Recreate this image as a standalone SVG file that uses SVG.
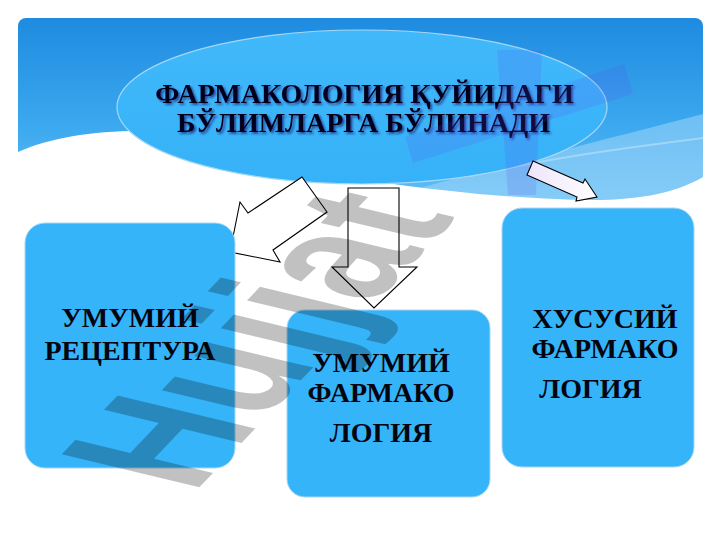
<svg xmlns="http://www.w3.org/2000/svg" width="720" height="540" viewBox="0 0 720 540">
<defs>
<linearGradient id="bannerG" x1="0" y1="0" x2="0" y2="1">
<stop offset="0" stop-color="#1f8be0"/>
<stop offset="0.55" stop-color="#3ba8ef"/>
<stop offset="1" stop-color="#69c2f6"/>
</linearGradient>
<linearGradient id="ellG" x1="0" y1="0" x2="0" y2="1">
<stop offset="0" stop-color="#41b8fa"/>
<stop offset="1" stop-color="#36b2f8"/>
</linearGradient>
<linearGradient id="arrG" x1="0" y1="0" x2="1" y2="0">
<stop offset="0" stop-color="#ede4fb"/>
<stop offset="1" stop-color="#ffffff"/>
</linearGradient>
<filter id="shadow" x="-10%" y="-30%" width="120%" height="160%">
<feDropShadow dx="1.8" dy="1.8" stdDeviation="0.8" flood-color="#1b1f70" flood-opacity="0.75"/>
</filter>
<style>
.box{fill:#36b4f9;stroke:#a9d6f2;stroke-width:1}
.lbl{font-family:"Liberation Serif","Times New Roman",serif;font-weight:bold;font-size:28px;fill:#050510;text-anchor:middle}
.ttl{font-family:"Liberation Serif","Times New Roman",serif;font-weight:bold;font-size:28px;text-anchor:middle;fill:#05051a}
.arr{fill:#ffffff;stroke:#000;stroke-width:1.1;stroke-linejoin:miter}
</style>
</defs>
<rect width="720" height="540" fill="#ffffff"/>
<g id="background">
<rect x="18" y="18" width="685" height="195" rx="8" fill="url(#bannerG)"/>
<path d="M420,188 C520,160 620,136 703,114 L703,177 C680,190 650,199 600,200 C540,200 470,195 420,188 Z" fill="#a8dafa" opacity="0.5"/>
<path d="M470,176 C560,156 640,146 703,138" fill="none" stroke="#c8eafc" stroke-width="2" opacity="0.5"/>
<path d="M10,152 L18,152 C50,138 90,131 140,131 C230,132 300,170 380,182 C460,194 540,200 600,200 C650,199 680,190 703,177 L712,177 L712,216 L10,216 Z" fill="#ffffff"/>
</g>
<g id="title">
<ellipse cx="362" cy="107" rx="245" ry="77" fill="url(#ellG)" stroke="#a6d8f5" stroke-width="1.2"/>
<g class="ttl" filter="url(#shadow)">
<text x="364.5" y="103">ФАРМАКОЛОГИЯ ҚУЙИДАГИ</text>
<text x="363.5" y="132">БЎЛИМЛАРГА БЎЛИНАДИ</text>
</g>
</g>
<g id="mark-blue" fill="#5a4ff0" opacity="0.17">
<polygon points="497,50 542,50 536,195 508,195"/>
<polygon points="405,137 624,64 633,94 413,163"/>
</g>
<g id="connectors">
<polygon class="arr" points="230,252 240,202 248,213 302,177 327,212 273,250 280,262"/>
<polygon class="arr" points="348,188 399,188 399,267 417,267 374,308 332,267 348,267"/>
<polygon class="arr" style="fill:url(#arrG)" points="533,161 583,183 585,179 597,197 576,201 577,197 527,175"/>
</g>
<g id="node-recept">
<rect class="box" x="25" y="223" width="210" height="245" rx="20"/>
<text class="lbl" x="130" y="327">УМУМИЙ</text>
<text class="lbl" x="130" y="360">РЕЦЕПТУРА</text>
</g>
<g id="node-umumiy">
<rect class="box" x="287" y="310" width="203" height="187" rx="18"/>
<text class="lbl" x="381" y="372">УМУМИЙ</text>
<text class="lbl" x="381" y="402">ФАРМАКО</text>
<text class="lbl" x="381" y="442">ЛОГИЯ</text>
</g>
<g id="node-xususiy">
<rect class="box" x="502" y="208" width="192" height="259" rx="20"/>
<text class="lbl" x="605" y="328">ХУСУСИЙ</text>
<text class="lbl" x="605" y="358">ФАРМАКО</text>
<text class="lbl" x="590.5" y="398">ЛОГИЯ</text>
</g>
<g id="watermark">
<text transform="matrix(0.95,-1,2,0.48,193,494)" font-family="Liberation Sans, Arial, sans-serif" font-weight="bold" font-size="100" fill="#000" opacity="0.24">Hujjat</text>
</g>
</svg>
